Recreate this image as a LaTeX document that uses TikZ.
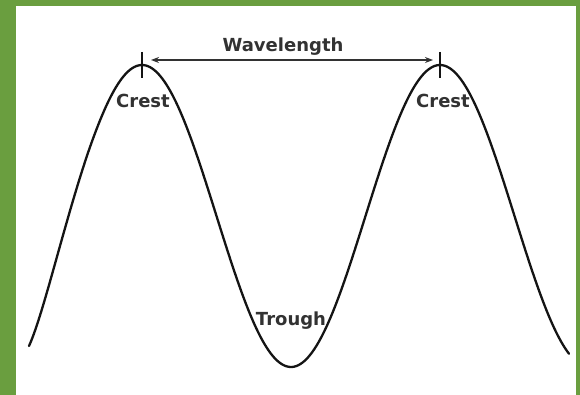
\documentclass[tikz,border=0pt]{standalone}
\usepackage{fontspec}
\newfontfamily\labfont{DejaVu Sans}
\usetikzlibrary{arrows.meta}
\definecolor{frame}{RGB}{106,158,63}
\definecolor{ink}{RGB}{20,20,20}
\definecolor{txt}{RGB}{50,50,50}
\tikzset{
  wave/.style={draw=ink, line width=2.3pt, line cap=round, line join=round},
  tickmark/.style={draw=ink, line width=1.6pt},
  dim/.style={draw=txt, line width=1.3pt, {Stealth[length=8pt,width=6pt]}-{Stealth[length=8pt,width=6pt]}},
  lab/.style={inner sep=0pt, anchor=base, text=txt, font=\labfont\bfseries\fontsize{18}{20}\selectfont}
}
\begin{document}
\begin{tikzpicture}[x=1pt,y=-1pt]
\useasboundingbox (0,0) rectangle (580,395);
\fill[white] (0,0) rectangle (580,395);
\fill[frame] (0,0) rectangle (16,395);
\fill[frame] (0,0) rectangle (580,6);
\fill[frame] (576,0) rectangle (580,395);
% wave
\draw[wave] (29,346) .. controls (44,313) and (65,219) .. (90,147)
  -- plot[domain=90:569, samples=240] (\x, {216-151*cos(1.20805*(\x-142))});
% crest marks
\coordinate (c1) at (142,65);
\coordinate (c2) at (440,65);
\draw[tickmark] ([yshift=13pt]c1) -- ([yshift=-13pt]c1);
\draw[tickmark] ([yshift=13pt]c2) -- ([yshift=-13pt]c2);
\coordinate (a1) at (151,60);
\coordinate (a2) at (433,60);
\draw[dim] (a1) -- (a2);
\node[lab] (wl) at (283,52) {Wavelength};
\node[lab] (cr1) at (143,108) {Crest};
\node[lab] (cr2) at (443,108) {Crest};
\node[lab] (tr) at (291,325) {Trough};
\end{tikzpicture}
\end{document}
